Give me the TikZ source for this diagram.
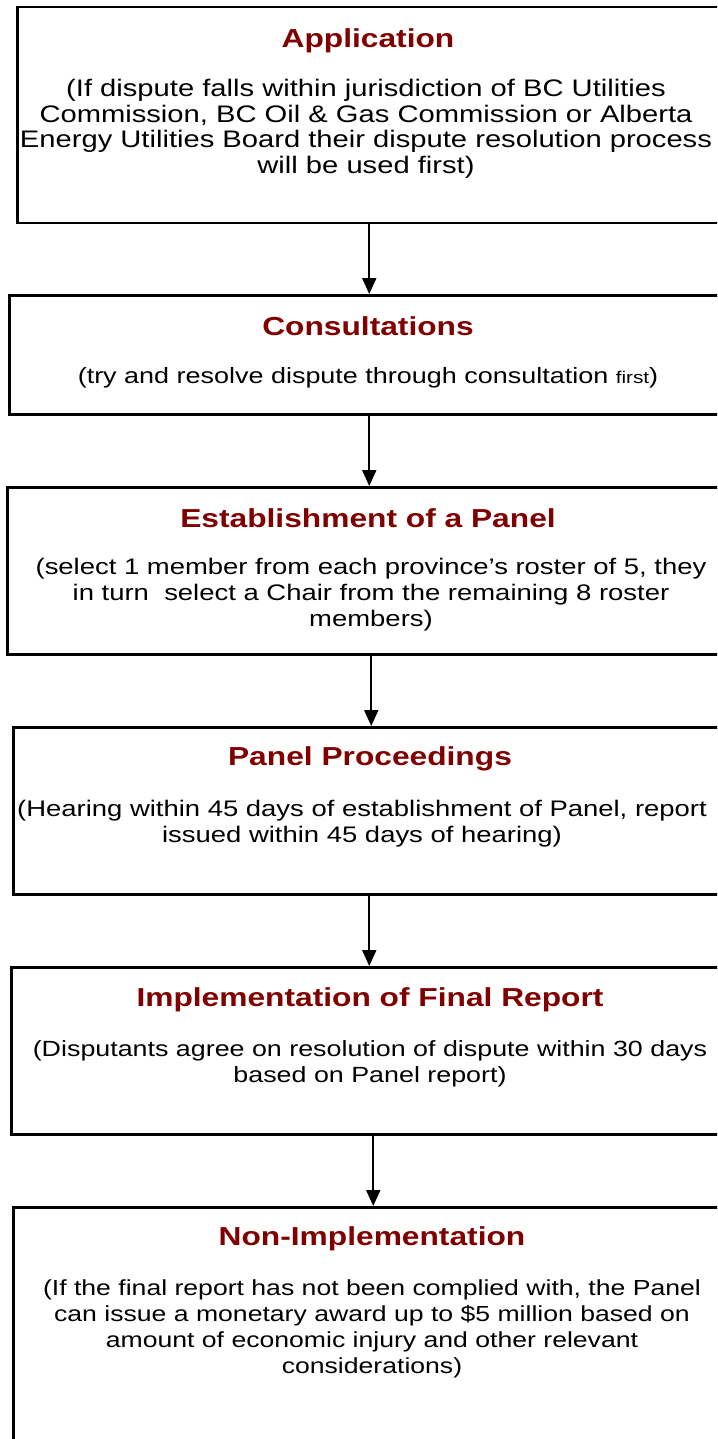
\documentclass[tikz,border=0pt]{standalone}
\usepackage{fontspec}
\setmainfont{Liberation Sans}[FakeStretch=1.22]
\usetikzlibrary{arrows.meta}
\definecolor{titlered}{RGB}{128,0,0}

\tikzset{
  box/.style={draw, line width=2.5pt, anchor=north west, inner sep=0pt},
  title/.style={font=\fontsize{26}{30}\selectfont\bfseries, text=titlered},
  body/.style={font=\fontsize{#1}{26}\selectfont, align=center},
  body/.default=22.5,
  arr/.style={-{Triangle[width=14pt,length=16pt]}, line width=2pt}
}

\begin{document}
\begin{tikzpicture}[x=1pt,y=-1pt]
      \useasboundingbox (0,0) rectangle (717,1439);
      \clip (0,0) rectangle (717,1439);
      % boxes
      \node[box, minimum width=704, minimum height=216] (app)  at (16,6) {};
      \node[box, minimum width=720, minimum height=119] (cons) at (8,294) {};
      \node[box, minimum width=728, minimum height=167] (est)  at (6,486) {};
      \node[box, minimum width=712, minimum height=167] (proc) at (12,726) {};
      \node[box, minimum width=724, minimum height=167] (impl) at (10,966) {};
      \node[box, minimum width=718, minimum height=260] (non)  at (12,1206) {};
      % titles
      \node[title] (appT)  at (368,41)   {Application};
      \node[title] (consT) at (368,326)  {Consultations};
      \node[title] (estT)  at (368,518)  {Establishment of a Panel};
      \node[title] (procT) at (370,759)  {Panel Proceedings};
      \node[title] (implT) at (370,1000) {Implementation of Final Report};
      \node[title] (nonT)  at (372,1239) {Non-Implementation};
      % texts
      \node[body, font=\fontsize{23.9}{25.6}\selectfont] (appB) at (366,129) {(If dispute falls within jurisdiction of BC Utilities\\
        Commission, BC Oil \& Gas Commission or Alberta\\
        Energy Utilities Board their dispute resolution process\\
        will be used first)};
      \node[body=22.1] (consB) at (368,378) {(try and resolve dispute through consultation {\fontsize{17}{20}\selectfont first})};
      \node[body] (estB) at (371,595) {(select 1 member from each province’s roster of 5, they\\
        in turn\ \ select a Chair from the remaining 8 roster\\
        members)};
      \node[body] (procB) at (362,824) {(Hearing within 45 days of establishment of Panel, report\\
        issued within 45 days of hearing)};
      \node[body=22] (implB) at (370,1064) {(Disputants agree on resolution of dispute within 30 days\\
        based on Panel report)};
      \node[body=21.8] (nonB) at (372,1329) {(If the final report has not been complied with, the Panel\\
        can issue a monetary award up to \$5 million based on\\
        amount of economic injury and other relevant\\
        considerations)};
      % arrows
      \draw[arr] (app.south)  -- (app.south |- cons.north);
      \draw[arr] (cons.south) -- (cons.south |- est.north);
      \draw[arr] (est.south)  -- (est.south |- proc.north);
      \draw[arr] (proc.south) -- (proc.south |- impl.north);
      \draw[arr] (impl.south) -- (impl.south |- non.north);
    \end{tikzpicture}
\end{document}
